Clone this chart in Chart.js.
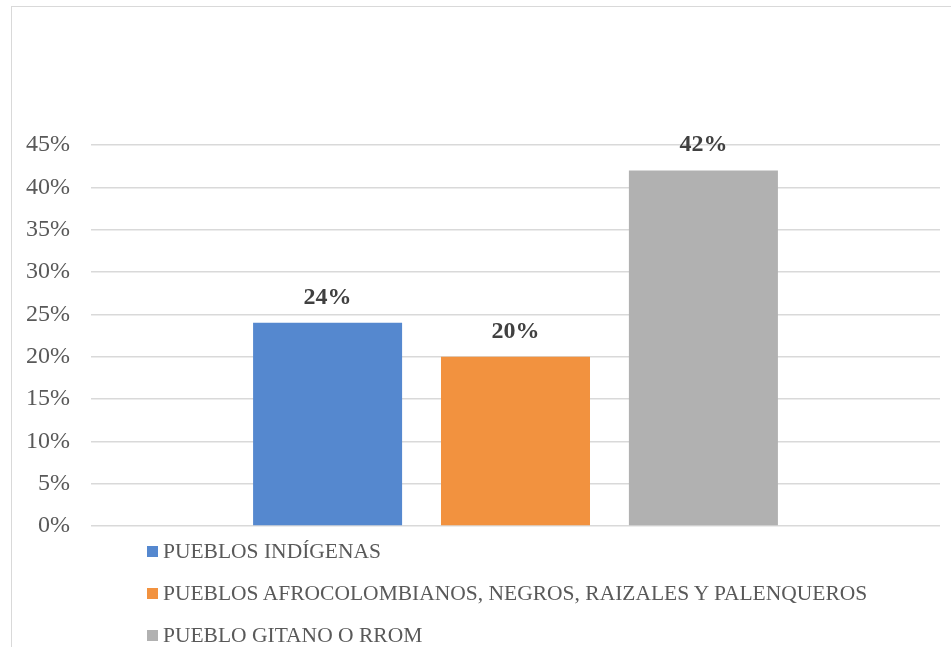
<!DOCTYPE html>
<html>
<head>
<meta charset="utf-8">
<script src="https://cdn.jsdelivr.net/npm/chart.js@4/dist/chart.umd.min.js"></script>
<style>
  body { margin:0; background:#fff; width:951px; height:647px; overflow:hidden; position:relative; }
  #frame { position:absolute; left:11px; top:6px; width:1000px; height:700px; border:1.5px solid #d9d9d9; box-sizing:border-box; }
  #wrap { position:absolute; left:0; top:0; width:951px; height:647px; }
  #legend { position:absolute; left:147px; top:537px; font-family:"Liberation Serif","Times New Roman",serif; font-size:21.5px; color:#595959; }
  #legend div { height:42px; line-height:28px; white-space:nowrap; }
  #legend span.box { display:inline-block; width:11px; height:11px; margin-right:5px; vertical-align:1px; }
</style>
</head>
<body>
<div id="frame"></div>
<div id="wrap"><canvas id="myChart" width="951" height="647"></canvas></div>
<div id="legend"></div>
<script>
// data
let categories = [''];
let seriesNames = ['PUEBLOS INDÍGENAS', 'PUEBLOS AFROCOLOMBIANOS, NEGROS, RAIZALES Y PALENQUEROS', 'PUEBLO GITANO O RROM'];
let indigenas = [0.24];
let afro = [0.20];
let gitano = [0.42];
let tickValues = [0, 0.05, 0.10, 0.15, 0.20, 0.25, 0.30, 0.35, 0.40, 0.45];
let colors = ['#5588cf', '#f2923f', '#b1b1b1'];

window.onload = function(){
    createChart();
}

// values above the bars
let barLabels = {
    id: 'barLabels',
    afterDatasetsDraw(chart){
        let ctx = chart.ctx;
        ctx.save();
        ctx.font = 'bold 24px "Liberation Serif", serif';
        ctx.fillStyle = '#404040';
        ctx.textAlign = 'center';
        ctx.textBaseline = 'alphabetic';
        chart.data.datasets.forEach((ds, i)=>{
            chart.getDatasetMeta(i).data.forEach((bar, j)=>{
                ctx.fillText(Math.round(ds.data[j]*100) + '%', bar.x, bar.y - 19);
            })
        })
        ctx.restore();
    }
}

function createChart()
{
var ctx = document.getElementById('myChart').getContext('2d');
var chart = new Chart(ctx, {
    type: 'bar',
    data: {
        labels: categories,
        datasets: [{
            label: seriesNames[0],
            backgroundColor: colors[0],
            data: indigenas
        },
        {
            label: seriesNames[1],
            backgroundColor: colors[1],
            data: afro
        },
        {
            label: seriesNames[2],
            backgroundColor: colors[2],
            data: gitano
        }]
    },
    options: {
        responsive: false,
        animation: false,
        layout: { padding: { left: 0, top: 145, right: 11, bottom: 121 } },
        datasets: { bar: { categoryPercentage: 0.664, barPercentage: 0.793 } },
        plugins: { legend: { display: false }, tooltip: { enabled: false } },
        scales: {
            x: { display: false },
            y: {
                min: 0,
                max: 0.45,
                afterFit(scale){ scale.width = 91; },
                afterBuildTicks(scale){ scale.ticks = tickValues.map(v => ({ value: v })); },
                border: { display: false },
                grid: { color: '#d9d9d9', lineWidth: 1.5, drawTicks: false },
                ticks: {
                    padding: 21,
                    color: '#595959',
                    font: { family: '"Liberation Serif", serif', size: 24 },
                    callback: v => Math.round(v*100) + '%'
                }
            }
        }
    },
    plugins: [barLabels]
});

// legend as a vertical list
let out = '';
chart.data.datasets.forEach((ds)=>{
    out += `<div><span class="box" style="background:${ds.backgroundColor}"></span>${ds.label}</div>`;
})
document.getElementById('legend').innerHTML = out;
}
</script>
</body>
</html>
